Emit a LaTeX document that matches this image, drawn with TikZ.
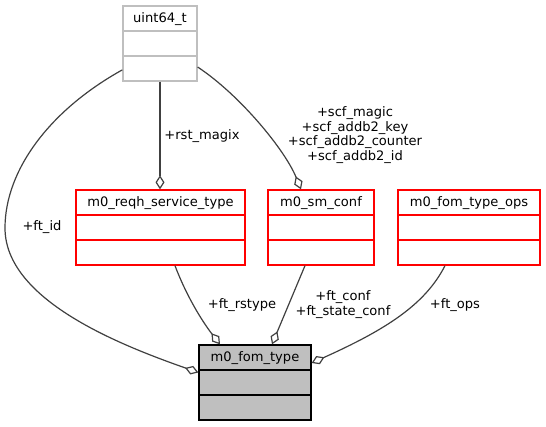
\documentclass[tikz,border=0pt]{standalone}
\usepackage{fontspec}
\setmainfont{DejaVu Sans}
\usetikzlibrary{arrows.meta}

\newlength{\du}
\setlength{\du}{0.75pt}
\definecolor{edgecolor}{rgb}{0.250000, 0.250000, 0.250000}
\definecolor{nodoccolor}{rgb}{0.750000, 0.750000, 0.750000}
\definecolor{rootcolor}{rgb}{0.750000, 0.750000, 0.750000}
\tikzset{
  redbox/.style={draw=red, fill=white, line width=1.3\du, inner sep=0pt, minimum height=75\du},
  greybox/.style={draw=nodoccolor, fill=white, line width=1.3\du, inner sep=0pt, minimum height=75\du},
  rootbox/.style={draw=black, fill=rootcolor, line width=1.3\du, inner sep=0pt, minimum height=75\du},
  redline/.style={draw=red, line width=1.3\du},
  greyline/.style={draw=nodoccolor, line width=1.3\du},
  rootline/.style={draw=black, line width=1.3\du},
  classname/.style={anchor=base, inner sep=0pt},
  memberlabel/.style={anchor=base, inner sep=0pt},
  memberof/.style={draw=edgecolor, line width=1.2\du, -{Diamond[open, length=10.5pt, width=6.75pt]}}
}

\begin{document}
\begin{tikzpicture}[x=\du, y=-\du, font=\fontsize{9.8}{10.95}\selectfont]
\useasboundingbox (0,0) rectangle (546,427);
% uint64_t
\node[greybox, minimum width=74\du] (uint) at (160,43.5) {};
\node[classname] (uintname) at (160,23) {uint64\_t};
\draw[greyline] (123,31)--(197,31) (123,56)--(197,56);
% m0_reqh_service_type
\node[redbox, minimum width=169\du] (reqh) at (160.5,227.5) {};
\node[classname] (reqhname) at (160.5,206.5) {m0\_reqh\_service\_type};
\draw[redline] (76,215)--(245,215) (76,240)--(245,240);
% m0_sm_conf
\node[redbox, minimum width=106\du] (smconf) at (321,227.5) {};
\node[classname] (smconfname) at (321,206.5) {m0\_sm\_conf};
\draw[redline] (268,215)--(374,215) (268,240)--(374,240);
% m0_fom_type_ops
\node[redbox, minimum width=142\du] (ops) at (469,227.5) {};
\node[classname] (opsname) at (469,206.5) {m0\_fom\_type\_ops};
\draw[redline] (398,215)--(540,215) (398,240)--(540,240);
% m0_fom_type
\node[rootbox, minimum width=112\du] (fomtype) at (255,382.5) {};
\node[classname] (fomtypename) at (255,362) {m0\_fom\_type};
\draw[rootline] (199,370)--(311,370) (199,395)--(311,395);

% members
\draw[memberof] (uint.south) -- (uint.south |- reqh.north);
\node[memberlabel] (rstmagix) at (202,139.5) {+rst\_magix};
\draw[memberof] (uint.-32) .. controls (240,95) and (285,150) .. ([xshift=-20\du]smconf.north);
\node[align=center, inner sep=0pt] (scflabels) at (355,135) {+scf\_magic\\+scf\_addb2\_key\\+scf\_addb2\_counter\\+scf\_addb2\_id};
\draw[memberof] (uint.-145) .. controls (50,110) and (5,170) .. (5,228) .. controls (5,300) and (120,345) .. (fomtype.170);
\node[memberlabel] (ftid) at (42,230.5) {+ft\_id};
\draw[memberof] ([xshift=14.5\du]reqh.south) .. controls (188,300) and (205,325) .. ([xshift=-35\du]fomtype.north);
\node[memberlabel] (ftrstype) at (242,308.5) {+ft\_rstype};
\draw[memberof] ([xshift=-16\du]smconf.south) -- ([xshift=17\du]fomtype.north);
\node[align=center, inner sep=0pt] (ftconf) at (343,304.5) {+ft\_conf\\+ft\_state\_conf};
\draw[memberof] ([xshift=-24\du]ops.south) .. controls (425,305) and (385,330) .. ([yshift=19.5\du]fomtype.east);
\node[memberlabel] (ftops) at (455,309) {+ft\_ops};
\end{tikzpicture}
\end{document}
